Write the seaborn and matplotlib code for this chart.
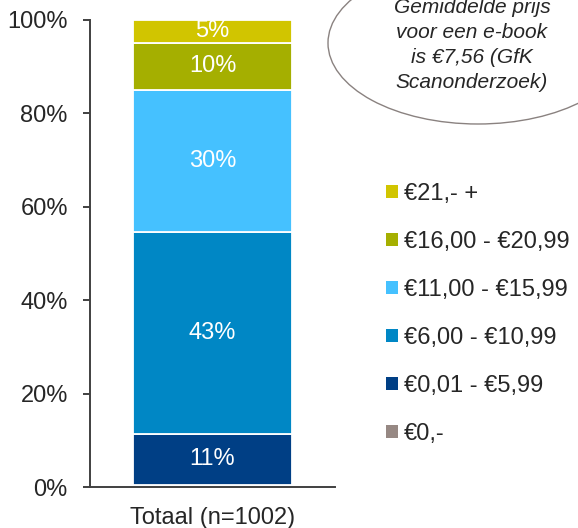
import matplotlib
matplotlib.use("Agg")
import matplotlib.pyplot as plt
import seaborn as sns
from matplotlib.patches import Ellipse, Patch

# data
category = "Totaal (n=1002)"
price_bins = ["€0,-", "€0,01 - €5,99", "€6,00 - €10,99", "€11,00 - €15,99",
              "€16,00 - €20,99", "€21,- +"]
shares = [0.5, 10.8, 43.3, 30.4, 10.1, 4.9]
share_labels = ["", "11%", "43%", "30%", "10%", "5%"]
colors = ["#968883", "#003F85", "#0087C5", "#45C1FF", "#A5AF00", "#D1C500"]
yticks = [0, 20, 40, 60, 80, 100]
ytick_labels = ["0%", "20%", "40%", "60%", "80%", "100%"]
note_lines = ["Gemiddelde prijs", "voor een e-book", "is €7,56 (GfK", "Scanonderzoek)"]

sns.set_style("white")
plt.rcParams["font.family"] = ["Liberation Sans", "DejaVu Sans"]

fig = plt.figure(figsize=(5.78, 5.28), dpi=100)
ax = fig.add_axes([90/578, 1-487/528, 245/578, 467/528])

bottom = 0
for name, val, lab, col in zip(price_bins, shares, share_labels, colors):
    sns.barplot(x=[category], y=[val], bottom=bottom, color=col, width=0.65,
                edgecolor="white", linewidth=1.3, saturation=1, ax=ax)
    if lab:
        ax.text(0, bottom + val/2, lab, ha="center", va="center",
                color="white", fontsize=17)
    bottom += val

ax.set_xlim(-0.5, 0.5)
ax.set_ylim(0, 100)
ax.set_yticks(yticks)
ax.set_yticklabels(ytick_labels, fontsize=17)
ax.set_xlabel("")
ax.set_ylabel("")
ax.tick_params(axis="y", left=True, length=5, width=1.4, color="#404040", pad=11)
ax.tick_params(axis="x", bottom=False, labelsize=17, pad=11)
for s in ["top", "right"]:
    ax.spines[s].set_visible(False)
for s in ["left", "bottom"]:
    ax.spines[s].set_color("#404040")
    ax.spines[s].set_linewidth(1.4)

handles = [Patch(facecolor=c, edgecolor="none") for c in colors]
fig.legend(handles[::-1], price_bins[::-1], loc="upper left",
           bbox_to_anchor=(386/578, 1-183/528), frameon=False, fontsize=17,
           handlelength=0.5, handleheight=0.5, handletextpad=0.25,
           labelspacing=1.1, borderpad=0, borderaxespad=0)

ell = Ellipse((478/578, 1-43/528), 300/578, 162/528, transform=fig.transFigure,
              facecolor="none", edgecolor="#8a8280", linewidth=1.0, clip_on=False)
fig.patches.append(ell)
fig.text(472/578, 1-45/528, "\n".join(note_lines), ha="center", va="center",
         fontsize=15, style="italic", linespacing=1.42)

fig.savefig("out.png", dpi=100)
